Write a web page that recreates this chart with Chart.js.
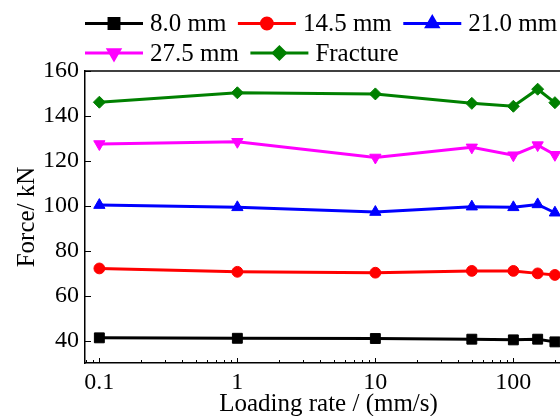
<!DOCTYPE html>
<html>
<head>
<meta charset="utf-8">
<script src="https://cdn.jsdelivr.net/npm/chart.js@4.4.1/dist/chart.umd.min.js"></script>
<style>
  html, body { margin: 0; padding: 0; background: #fff; }
  #wrap { position: relative; width: 560px; height: 416px; overflow: hidden; }
  canvas { display: block; }
</style>
</head>
<body>
<div id="wrap"><canvas id="c" width="572" height="436"></canvas></div>
<script>
// Loading rates (mm/s)
const rates = [0.1, 1, 10, 50, 100, 150, 200];

// Force (kN) at each displacement level and at fracture
const force8_0  = [41.2, 41.0, 40.9, 40.6, 40.3, 40.6, 39.4];
const force14_5 = [72.1, 70.6, 70.2, 71.0, 71.0, 69.9, 69.2];
const force21_0 = [100.3, 99.3, 97.2, 99.6, 99.3, 100.6, 96.9];
const force27_5 = [127.5, 128.5, 121.5, 126.0, 122.5, 127.0, 122.7];
const forceFrac = [146.1, 150.3, 149.8, 145.6, 144.3, 151.9, 145.9];

const seriesNames = ['8.0 mm', '14.5 mm', '21.0 mm', '27.5 mm', 'Fracture'];

// Axis tick labels
const xTicks = [0.1, 1, 10, 100];
const yTicks = [40, 60, 80, 100, 120, 140, 160];

const FONT = 'Liberation Serif, Times New Roman, serif';

function series(label, values, color, style, radius, rotation) {
  return {
    label: label,
    data: rates.map((r, i) => ({ x: r, y: values[i] })),
    borderColor: color,
    backgroundColor: color,
    borderWidth: 3,
    pointStyle: style,
    pointRadius: radius,
    pointRotation: rotation || 0,
    pointBackgroundColor: color,
    pointBorderColor: color,
    pointBorderWidth: 1,
    tension: 0,
    clip: false
  };
}

// Legend: line sample with marker, then label, in two rows
const lineLegend = {
  id: 'lineLegend',
  afterDraw(chart) {
    const ctx = chart.ctx;
    const rows = [[0, 1, 2], [3, 4]];
    const rowY = [23.5, 53];
    ctx.save();
    ctx.font = '25px ' + FONT;
    ctx.textBaseline = 'middle';
    rows.forEach((row, ri) => {
      let x = 85;
      const y = rowY[ri];
      row.forEach(di => {
        const ds = chart.data.datasets[di];
        ctx.strokeStyle = ds.borderColor;
        ctx.lineWidth = 3;
        ctx.beginPath();
        ctx.moveTo(x, y);
        ctx.lineTo(x + 58, y);
        ctx.stroke();
        ctx.fillStyle = ds.borderColor;
        Chart.helpers.drawPoint(ctx, {
          pointStyle: ds.pointStyle,
          radius: ds.pointRadius,
          rotation: ds.pointRotation,
          borderWidth: 1
        }, x + 29, y);
        ctx.fillStyle = '#000';
        ctx.fillText(ds.label, x + 65, y + 1);
        x += 65 + ctx.measureText(ds.label).width + 11.5;
      });
    });
    ctx.restore();
  }
};

// Frame top line and inward tick marks
const frameTicks = {
  id: 'frameTicks',
  afterDatasetsDraw(chart) {
    const ctx = chart.ctx;
    const a = chart.chartArea;
    const xs = chart.scales.x, ys = chart.scales.y;
    ctx.save();
    ctx.strokeStyle = '#000';
    ctx.lineWidth = 1.5;
    ctx.beginPath();
    ctx.moveTo(a.left, a.top);
    ctx.lineTo(chart.width, a.top);
    ctx.stroke();

    ctx.lineWidth = 1;
    ctx.beginPath();
    // x axis: major and minor ticks per decade
    for (let e = -2; e <= 3; e++) {
      for (let m = 1; m <= 9; m++) {
        const v = m * Math.pow(10, e);
        if (v < xs.min || v > xs.max) continue;
        const px = Math.round(xs.getPixelForValue(v)) + 0.5;
        const len = m === 1 ? 5 : 3;
        ctx.moveTo(px, a.bottom);
        ctx.lineTo(px, a.bottom - len);
      }
    }
    // y axis: major ticks
    yTicks.forEach(v => {
      const py = Math.round(ys.getPixelForValue(v)) + 0.5;
      ctx.moveTo(a.left, py);
      ctx.lineTo(a.left + 6, py);
    });
    ctx.stroke();
    ctx.restore();
  }
};

new Chart(document.getElementById('c'), {
  type: 'line',
  data: {
    datasets: [
      series(seriesNames[0], force8_0,  '#000000', 'rect',     7),
      series(seriesNames[1], force14_5, '#ff0000', 'circle',   5.4),
      series(seriesNames[2], force21_0, '#0000ff', 'triangle', 6.5),
      series(seriesNames[3], force27_5, '#ff00ff', 'triangle', 6.5, 180),
      series(seriesNames[4], forceFrac, '#008000', 'rectRot',  6)
    ]
  },
  options: {
    responsive: false,
    animation: false,
    events: [],
    layout: { autoPadding: false, padding: { top: 71, left: 0, right: 0, bottom: 0 } },
    plugins: {
      legend: { display: false },
      tooltip: { enabled: false }
    },
    scales: {
      x: {
        type: 'logarithmic',
        min: 0.0787,
        max: 266,
        border: { color: '#000', width: 1.5 },
        grid: { display: true, drawOnChartArea: false, drawTicks: false },
        afterBuildTicks: s => { s.ticks = xTicks.map(v => ({ value: v })); },
        afterFit: s => { s.height = 73; s.paddingLeft = 0; s.paddingRight = 0; },
        ticks: {
          autoSkip: false,
          maxRotation: 0,
          padding: 5,
          color: '#000',
          font: { family: FONT, size: 24 },
          callback: v => String(v)
        },
        title: {
          display: true,
          text: 'Loading rate / (mm/s)',
          color: '#000',
          font: { family: FONT, size: 25 },
          padding: { top: 0, bottom: 17 }
        }
      },
      y: {
        min: 30,
        max: 160,
        border: { color: '#000', width: 1.5 },
        grid: { display: true, drawOnChartArea: false, drawTicks: false },
        afterBuildTicks: s => { s.ticks = yTicks.map(v => ({ value: v })); },
        afterFit: s => { s.width = 85; },
        ticks: {
          padding: 6,
          color: '#000',
          font: { family: FONT, size: 24 }
        },
        title: {
          display: true,
          text: 'Force/ kN',
          color: '#000',
          font: { family: FONT, size: 25 },
          padding: { top: 12, bottom: 0 }
        }
      }
    }
  },
  plugins: [lineLegend, frameTicks]
});
</script>
</body>
</html>
